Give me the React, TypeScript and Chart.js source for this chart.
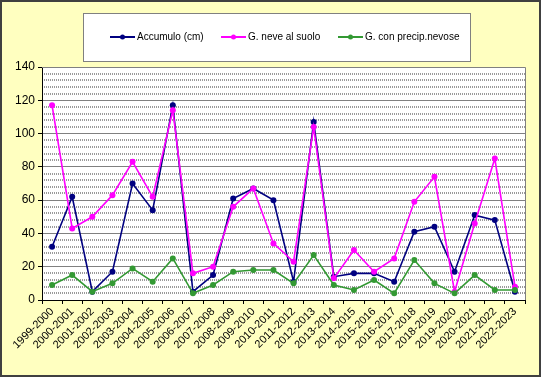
import React, { useEffect, useRef } from "react";
import { Chart, registerables } from "chart.js";

Chart.register(...registerables);

const seasons = [
  "1999-2000", "2000-2001", "2001-2002", "2002-2003", "2003-2004", "2004-2005",
  "2005-2006", "2006-2007", "2007-2008", "2008-2009", "2009-2010", "2010-2011",
  "2011-2012", "2012-2013", "2013-2014", "2014-2015", "2015-2016", "2016-2017",
  "2017-2018", "2018-2019", "2019-2020", "2020-2021", "2021-2022", "2022-2023",
];

const accumulo = [32, 62, 5, 17, 70, 54, 117, 5, 15, 61, 67, 60, 11, 107, 14, 16, 16, 11, 41, 44, 17, 51, 48, 5];
const neveSuolo = [117, 43, 50, 63, 83, 62, 114, 16, 20, 56, 67, 34, 23, 104, 13, 30, 17, 25, 59, 74, 5, 46, 85, 8];
const precipNevose = [9, 15, 5, 10, 19, 11, 25, 4, 9, 17, 18, 18, 10, 27, 9, 6, 12, 4, 24, 10, 4, 15, 6, 6];

const seriesNames = ["Accumulo (cm)", "G. neve al suolo", "G. con precip.nevose"];
const seriesColors = ["#000080", "#FF00FF", "#339933"];

const yMax = 140;
const yMajorStep = 20;
const yMinorStep = 4;

const FONT = 'Arial, "Liberation Sans", sans-serif';

const decorPlugin = {
  id: "decor",
  beforeDraw(chart: any) {
    const { ctx, width, height, chartArea } = chart;
    ctx.save();
    ctx.fillStyle = "#FFFFC0";
    ctx.fillRect(0, 0, width, height);
    ctx.strokeStyle = "#404040";
    ctx.lineWidth = 2;
    ctx.strokeRect(1, 1, width - 2, height - 2);
    ctx.fillStyle = "#FFFFFF";
    ctx.fillRect(chartArea.left, chartArea.top, chartArea.right - chartArea.left, chartArea.bottom - chartArea.top);
    // minor dotted gridlines
    const y = chart.scales.y;
    ctx.strokeStyle = "#9a9a9a";
    ctx.lineWidth = 2;
    ctx.setLineDash([1, 1]);
    for (let v = yMinorStep; v < yMax; v += yMinorStep) {
      if (v % yMajorStep === 0) continue;
      const py = Math.round(y.getPixelForValue(v));
      ctx.beginPath();
      ctx.moveTo(chartArea.left, py);
      ctx.lineTo(chartArea.right, py);
      ctx.stroke();
    }
    ctx.restore();
  },
  afterDatasetsDraw(chart: any) {
    const { ctx, chartArea } = chart;
    ctx.save();
    ctx.strokeStyle = "#808080";
    ctx.lineWidth = 1;
    ctx.beginPath();
    ctx.moveTo(chartArea.left, chartArea.top + 0.5);
    ctx.lineTo(chartArea.right + 0.5, chartArea.top + 0.5);
    ctx.lineTo(chartArea.right + 0.5, chartArea.bottom);
    ctx.stroke();
    // legend box
    const bx = 83, by = 13, bw = 387, bh = 48;
    ctx.fillStyle = "#FFFFFF";
    ctx.fillRect(bx, by, bw, bh);
    ctx.strokeStyle = "#808080";
    ctx.strokeRect(bx + 0.5, by + 0.5, bw, bh);
    const starts = [110, 221, 338];
    const ly = 37;
    ctx.font = "10px " + FONT;
    ctx.textBaseline = "middle";
    ctx.textAlign = "left";
    chart.data.datasets.forEach((ds: any, i: number) => {
      const x0 = starts[i];
      ctx.strokeStyle = ds.borderColor;
      ctx.lineWidth = 2;
      ctx.beginPath();
      ctx.moveTo(x0, ly);
      ctx.lineTo(x0 + 25, ly);
      ctx.stroke();
      ctx.fillStyle = ds.borderColor;
      ctx.beginPath();
      ctx.arc(x0 + 12.5, ly, 2.5, 0, Math.PI * 2);
      ctx.fill();
      ctx.fillStyle = "#000000";
      ctx.fillText(ds.label, x0 + 27, ly);
    });
    ctx.restore();
  },
};

export default function App() {
  const ref = useRef<HTMLCanvasElement | null>(null);
  useEffect(() => {
    if (!ref.current) return;
    const data = [accumulo, neveSuolo, precipNevose];
    const chart = new Chart(ref.current, {
      type: "line",
      data: {
        labels: seasons,
        datasets: data.map((d, i) => ({
          label: seriesNames[i],
          data: d,
          borderColor: seriesColors[i],
          backgroundColor: seriesColors[i],
          borderWidth: 1.6,
          pointRadius: 3,
          pointBorderWidth: 0,
          pointBackgroundColor: seriesColors[i],
          tension: 0,
          fill: false,
          order: 3 - i,
        })),
      },
      options: {
        responsive: false,
        animation: false,
        devicePixelRatio: 1,
        layout: { padding: { top: 67, right: 16, left: 0, bottom: 0 } },
        plugins: { legend: { display: false }, tooltip: { enabled: false } },
        scales: {
          x: {
            offset: true,
            grid: {
              offset: true,
              drawOnChartArea: false,
              drawTicks: true,
              tickLength: 4,
              tickColor: "#000000",
            },
            border: { color: "#000000", width: 1 },
            ticks: {
              font: { family: FONT, size: 11 },
              color: "#000000",
              maxRotation: 45,
              minRotation: 45,
              autoSkip: false,
              padding: 1,
            },
            afterFit(scale: any) {
              scale.height = 77;
            },
          },
          y: {
            min: 0,
            max: yMax,
            ticks: {
              stepSize: yMajorStep,
              font: { family: FONT, size: 12 },
              color: "#000000",
              padding: 3,
            },
            grid: {
              color: "#808080",
              lineWidth: 1,
              tickLength: 4,
              tickColor: "#000000",
            },
            border: { color: "#000000", width: 1 },
            afterFit(scale: any) {
              scale.width = 42;
            },
          },
        },
      },
      plugins: [decorPlugin],
    });
    return () => chart.destroy();
  }, []);
  return (
    <div style={{ position: "fixed", left: 0, top: 0, width: 541, height: 377 }}>
      <canvas ref={ref} width={541} height={377} style={{ display: "block" }} />
    </div>
  );
}
